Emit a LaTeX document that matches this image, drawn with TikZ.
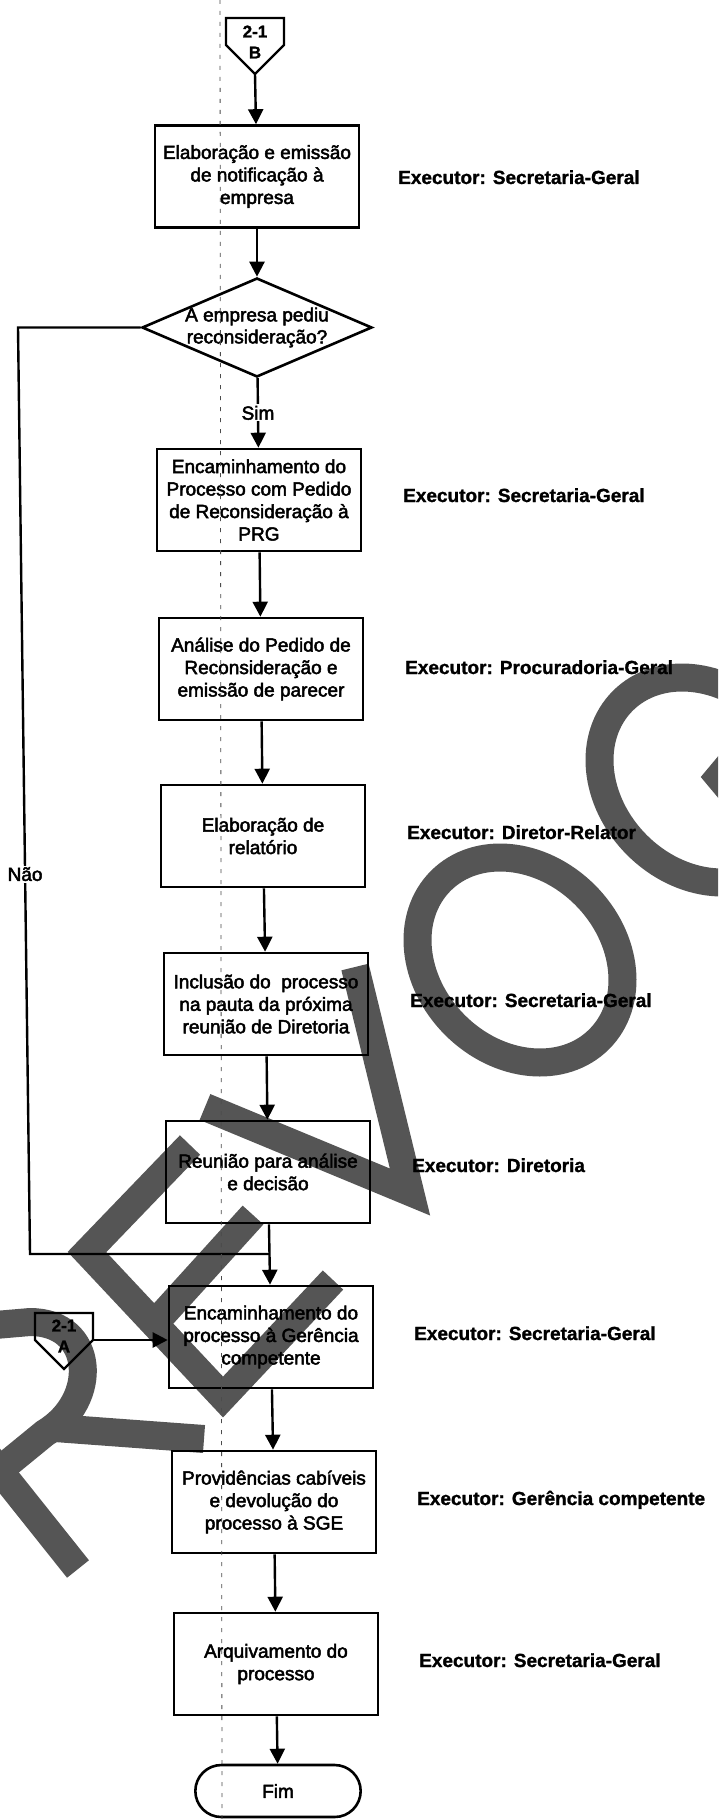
\documentclass[tikz,border=0pt]{standalone}
\usepackage{fontspec}
\setmainfont{Liberation Sans}
\newfontfamily\scanfont{Liberation Sans}[BoldFont={Liberation Sans}, BoldFeatures={FakeBold=2.5}]
\newfontfamily\heavyfont{Liberation Sans}[BoldFeatures={FakeBold=1.2}]
\usetikzlibrary{arrows.meta, shapes.geometric, shapes.misc}

\definecolor{stampgray}{RGB}{85,85,85}

\tikzset{
  box/.style={draw, line width=2.6pt, minimum width=204pt, minimum height=102pt,
    inner sep=2pt, align=center, font=\fontsize{19}{22.5}\selectfont\scanfont\bfseries},
  decision/.style={draw, diamond, line width=2.6pt, minimum width=230pt,
    minimum height=99pt, inner sep=0pt},
  terminal/.style={draw, rounded rectangle, line width=2.6pt, minimum width=172pt,
    minimum height=52pt, font=\fontsize{19}{22}\selectfont\scanfont\bfseries},
  executor/.style={anchor=base west, inner sep=0pt, font=\fontsize{19}{22}\selectfont\heavyfont\bfseries},
  flow/.style={line width=2.4pt},
  arr/.style={flow, ->},
  tag/.style={fill=white, inner sep=1.5pt, font=\fontsize{19}{22}\selectfont\scanfont\bfseries},
  contxt/.style={align=center, inner sep=0pt, font=\fontsize{17}{21}\selectfont\heavyfont\bfseries},
  stamp/.style={stampgray, line width=28pt},
  fold/.style={black!70, line width=0.8pt, dash pattern=on 4pt off 7pt},
  pics/offpage/.style={code={
    \draw[line width=2.4pt, line join=miter] (-29,-27) -- (29,-27) -- (29,0) -- (0,29) -- (-29,0) -- cycle;
  }}
}

\begin{document}
\begin{tikzpicture}[x=1pt, y=-1pt, >={Triangle[length=15pt,width=15pt]}]

\fill[white] (0,0) rectangle (718,1819);
\useasboundingbox (0,0) rectangle (718,1819);

% --- Stamp behind the chart ---
\begin{scope}
\clip (0,0) rectangle (718,1819);
\begin{scope}[stamp]
% R
\draw (-40,1421) -- (78,1569);
\draw (-40,1328) -- (30,1322) .. controls (95,1322) and (100,1400) .. (45,1433) -- (-10,1478);
\draw (55,1428) -- (204,1439);
% E
\draw[line join=miter] (190,1145) -- (87,1252) -- (223,1397) -- (333,1280);
\draw (155,1323) -- (253,1215);
% V
\draw[line join=miter] (205,1107) -- (410,1192) -- (355,967);
% O
\draw[rotate around={-45:(520,960)}] (520,960) ellipse [x radius=112, y radius=92];
% G
\draw[rotate around={-45:(702,780)}] (702,780) ellipse [x radius=112, y radius=92];
\draw[line join=miter] (765,722) -- (719,777) -- (765,832);
\end{scope}
\end{scope}

% --- Connector 2-1 B ---
\pic at (255,45) {offpage};
\node[contxt] (cB) at (255,42) {2-1\\B};
\coordinate (cBtip) at (255,74);

% --- Steps ---
\node[box] (b1) at (257,176.5) {Elaboração e emissão\\de notificação à\\empresa};
\node[decision] (dec) at (257,327.5) {};
\node[align=center, inner sep=0pt, font=\fontsize{19}{22}\selectfont\scanfont\bfseries] (dectxt) at (dec.center) {A empresa pediu\\reconsideração?};
\node[box] (b2) at (259,500) {Encaminhamento do\\Processo com Pedido\\de Reconsideração à\\PRG};
\node[box] (b3) at (261,669) {Análise do Pedido de\\Reconsideração e\\emissão de parecer};
\node[box] (b4) at (263,836) {Elaboração de\\relatório};
\node[box] (b5) at (266,1004) {Inclusão do\ \ processo\\na pauta da próxima\\reunião de Diretoria};
\node[box] (b6) at (268,1172) {Reunião para análise\\e decisão};
\node[box] (b7) at (271,1337) {Encaminhamento do\\processo à Gerência\\competente};
\node[box] (b8) at (274,1502) {Providências cabíveis\\e devolução do\\processo à SGE};
\node[box] (b9) at (276,1664) {Arquivamento do\\processo};
\node[terminal] (fim) at (278,1791) {Fim};

% --- Connector 2-1 A ---
\pic at (64,1340) {offpage};
\node[contxt] (cA) at (64,1336) {2-1\\A};
\coordinate (cAr) at (93,1340);

% --- Flow ---
\draw[arr] (cBtip) -- (b1);
\draw[arr] (b1) -- (dec);
\draw[arr] (dec) -- node[tag] (sim) {Sim} (b2);
\draw[arr] (b2) -- (b3);
\draw[arr] (b3) -- (b4);
\draw[arr] (b4) -- (b5);
\draw[arr] (b5) -- (b6);
\draw[arr] (b6) -- (b7);
\draw[arr] (b7) -- (b8);
\draw[arr] (b8) -- (b9);
\draw[arr] (b9) -- (fim);
\draw[arr] (cAr) -- (cAr -| b7.west);

% no branch back to the merge
\coordinate (naoTop) at (18,327.5);
\coordinate (naoBot) at (30,1254);
\coordinate (join) at (269.5,1254);
\draw[flow] (dec.west) -- (naoTop) -- node[tag, pos=0.59] (nao) {Não} (naoBot) -- (join);

% --- Executors ---
\node[executor] (e1) at (398,184) {Executor: Secretaria-Geral};
\node[executor] (e2) at (403,502) {Executor: Secretaria-Geral};
\node[executor] (e3) at (405,674) {Executor: Procuradoria-Geral};
\node[executor] (e4) at (407,839) {Executor: Diretor-Relator};
\node[executor] (e5) at (410,1007) {Executor: Secretaria-Geral};
\node[executor] (e6) at (412,1172) {Executor: Diretoria};
\node[executor] (e7) at (414,1340) {Executor: Secretaria-Geral};
\node[executor] (e8) at (417,1505) {Executor: Gerência competente};
\node[executor] (e9) at (419,1667) {Executor: Secretaria-Geral};

% fold mark of the page
\draw[fold] (220,0) -- (222,1819);

\end{tikzpicture}
\end{document}
